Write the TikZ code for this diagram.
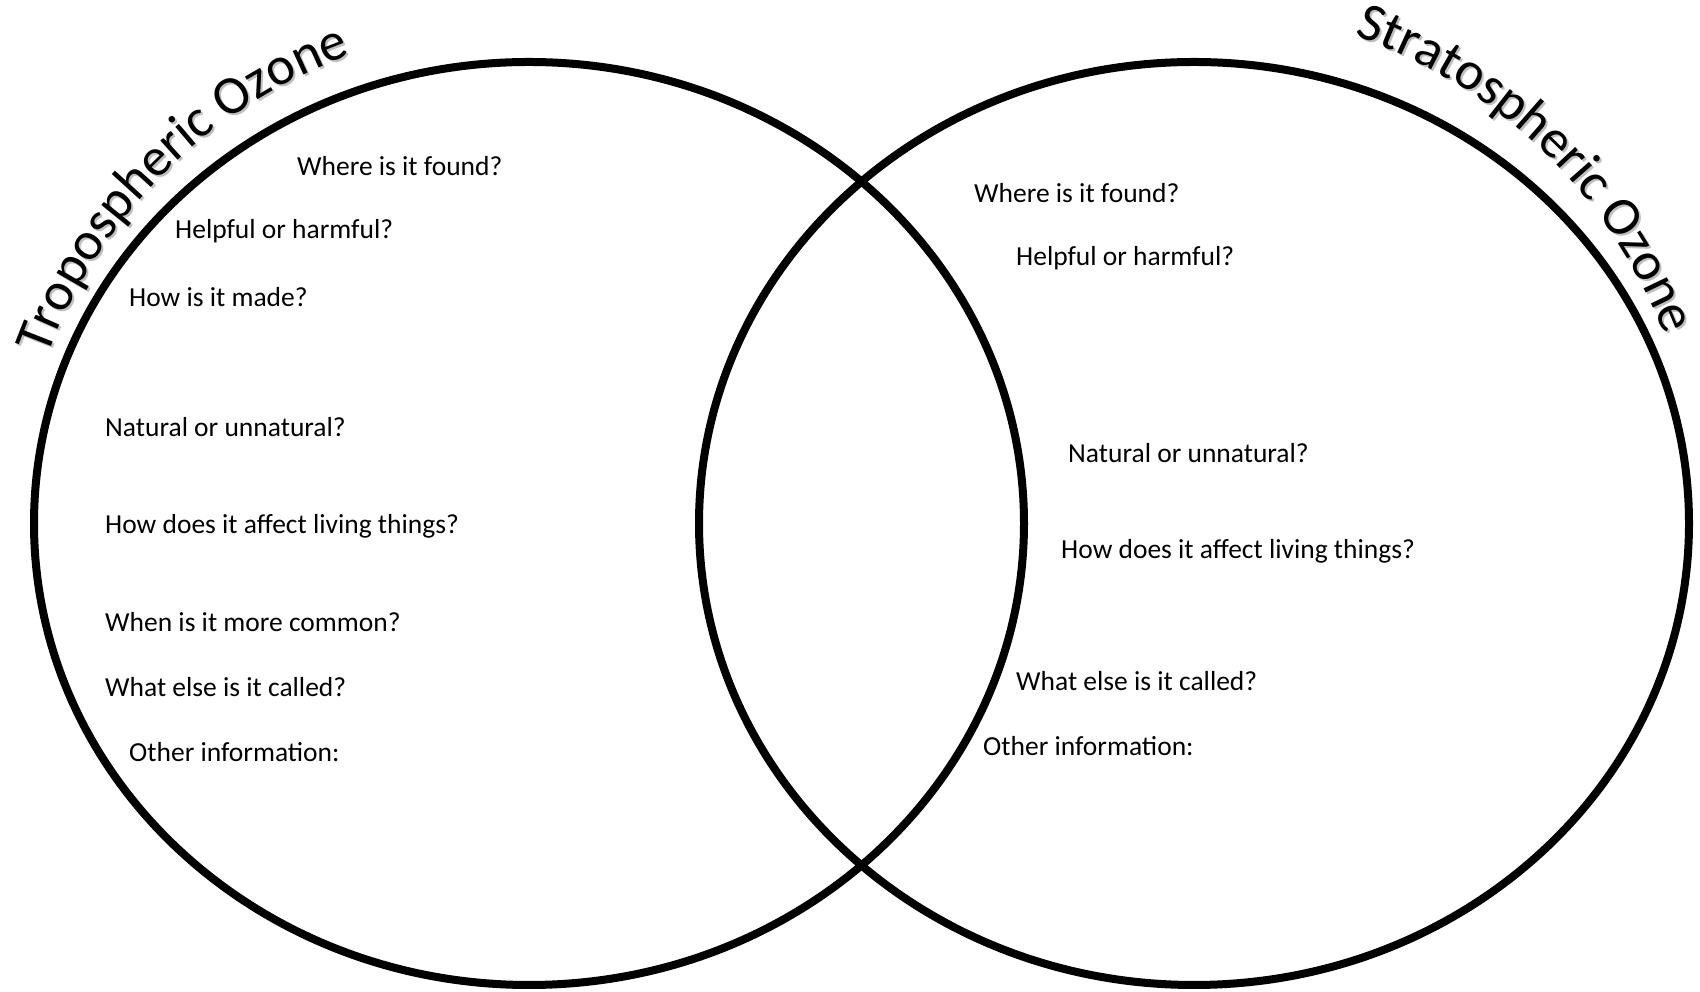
\documentclass[tikz,border=0pt]{standalone}
\usepackage{fontspec}
\setmainfont{Carlito}
\usetikzlibrary{decorations.text}
\newcommand\ozttl{\fontsize{54}{64}\selectfont}
\tikzset{
  ring/.style={line width=8pt, draw=black},
  q/.style={anchor=west, inner sep=0pt, font=\fontsize{27.5}{33}\selectfont},
}
\begin{document}
\begin{tikzpicture}[x=1pt,y=1pt]
\useasboundingbox (0,0) rectangle (1700,992);
\fill[white] (0,0) rectangle (1700,992);
% circles
\draw[ring] (529,468.5) ellipse [x radius=495, y radius=461.5];
\draw[ring] (1194,468.5) ellipse [x radius=495, y radius=461.5];
% titles (shadow then text)
\path[decorate, decoration={text along path, text color=black!25, text align=center,
  text={|\ozttl|Tropospheric Ozone}}]
  (531,466.5) ++(163.5:511 and 500) arc[start angle=163.5, end angle=107.5, x radius=511, y radius=500];
\path[decorate, decoration={text along path, text align=center,
  text={|\ozttl|Tropospheric Ozone}}]
  (529,468.5) ++(163.5:511 and 500) arc[start angle=163.5, end angle=107.5, x radius=511, y radius=500];
\path[decorate, decoration={text along path, text color=black!25, text align=center,
  text={|\ozttl|Stratospheric Ozone}}]
  (1196,466.5) ++(72:506 and 514) arc[start angle=72, end angle=21, x radius=506, y radius=514];
\path[decorate, decoration={text along path, text align=center,
  text={|\ozttl|Stratospheric Ozone}}]
  (1194,468.5) ++(72:506 and 514) arc[start angle=72, end angle=21, x radius=506, y radius=514];
% left questions
\node[q] (l1) at (297,826) {Where is it found?};
\node[q] (l2) at (175,761) {Helpful or harmful?};
\node[q] (l3) at (129,695) {How is it made?};
\node[q] (l4) at (105,565) {Natural or unnatural?};
\node[q] (l5) at (105,466) {How does it affect living things?};
\node[q] (l6) at (105,370) {When is it more common?};
\node[q] (l7) at (105,305) {What else is it called?};
\node[q] (l8) at (129,240) {Other information:};
% right questions
\node[q] (r1) at (974,799) {Where is it found?};
\node[q] (r2) at (1016,734) {Helpful or harmful?};
\node[q] (r3) at (1068,539) {Natural or unnatural?};
\node[q] (r4) at (1061,441) {How does it affect living things?};
\node[q] (r5) at (1016,311) {What else is it called?};
\node[q] (r6) at (983,246) {Other information:};
\end{tikzpicture}
\end{document}
